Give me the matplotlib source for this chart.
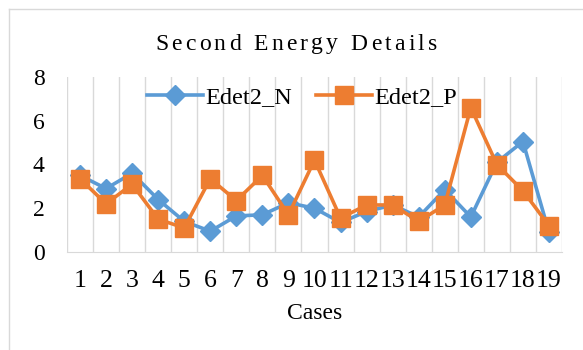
import matplotlib
matplotlib.use('Agg')
import matplotlib.pyplot as plt
from matplotlib.lines import Line2D
import numpy as np

plt.rcParams['font.family'] = ['Liberation Serif', 'DejaVu Serif']

# 数据
cases = list(range(1, 20))
edet2_n = [3.5, 2.9, 3.6, 2.4, 1.4, 0.95, 1.65, 1.7, 2.25, 2.0,
           1.35, 1.85, 2.15, 1.6, 2.85, 1.6, 4.1, 5.05, 0.9]
edet2_p = [3.35, 2.2, 3.1, 1.5, 1.1, 3.35, 2.35, 3.5, 1.7, 4.2,
           1.55, 2.15, 2.15, 1.4, 2.15, 6.6, 4.0, 2.8, 1.2]
title = 'Second Energy Details'

W, H = 583, 350
fig = plt.figure(figsize=(W / 100, H / 100), dpi=100)
ax = fig.add_axes([67 / W, 1 - 252 / H, 495 / W, 175 / H])

x = np.arange(len(cases)) + 1
ax.plot(x, edet2_n, color='#5B9BD5', lw=2.6, marker='D', markersize=10,
        label='Edet2_N', zorder=3)
ax.plot(x, edet2_p, color='#ED7D31', lw=2.6, marker='s', markersize=12.5,
        label='Edet2_P', zorder=4)

ax.set_xlim(0.5, len(cases) + 0.5)
ax.set_ylim(0, 8)
ax.set_yticks([0, 2, 4, 6, 8])
ax.set_xticks(x)
ax.set_xticklabels([str(c) for c in cases])
ax.set_xticks(np.arange(0.5, len(cases) + 1, 1), minor=True)
ax.grid(True, which='minor', axis='x', color='#d9d9d9', lw=1)
ax.tick_params(which='both', length=0)
ax.tick_params(axis='x', labelsize=18.5, pad=13)
ax.tick_params(axis='y', labelsize=17, pad=16)
for s in ['top', 'right', 'left']:
    ax.spines[s].set_visible(False)
ax.spines['bottom'].set_color('#d9d9d9')
ax.set_xlabel('Cases', fontsize=17, labelpad=8)

ax.legend(loc='center', bbox_to_anchor=((302 - 67) / 495, (252 - 97) / 175),
          ncol=2, frameon=False, fontsize=17.5, handlelength=2.3,
          handletextpad=0.1, columnspacing=1.0, borderpad=0)

# 标题：逐字排开，模拟字距
fig.canvas.draw()
r = fig.canvas.get_renderer()
widths = []
for ch in title:
    t = fig.text(0, 0, ch if ch != ' ' else 'n', fontsize=17)
    w = t.get_window_extent(r).width
    widths.append(w * 0.55 if ch == ' ' else w)
    t.remove()
total = 282
gap = (total - sum(widths)) / (len(title) - 1)
xpos = 296 - total / 2
for ch, w in zip(title, widths):
    if ch != ' ':
        fig.text(xpos / W, 1 - 44 / H, ch, fontsize=17, ha='left', va='center')
    xpos += w + gap

# 外框
fig.add_artist(Line2D([8.5 / W, 8.5 / W], [0, 1 - 9 / H],
                      transform=fig.transFigure, color='#d9d9d9', lw=1))
fig.add_artist(Line2D([8.5 / W, 1], [1 - 9 / H, 1 - 9 / H],
                      transform=fig.transFigure, color='#d9d9d9', lw=1))

fig.savefig('out.png', dpi=100)
